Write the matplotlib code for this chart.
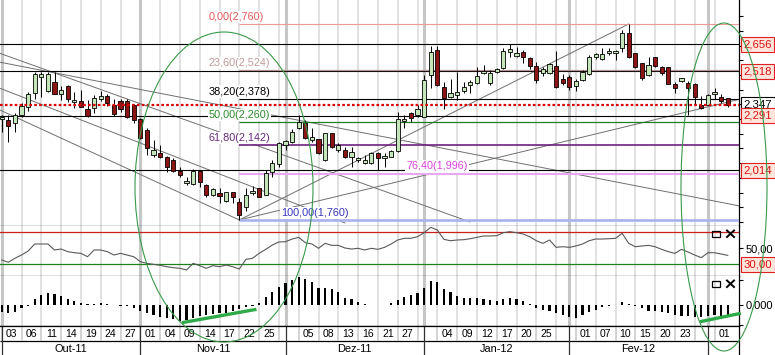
import matplotlib
matplotlib.use("Agg")
import matplotlib.pyplot as plt
import matplotlib.transforms as mtrans
from matplotlib.patches import Ellipse, Rectangle
import numpy as np

plt.rcParams['font.family'] = ['Liberation Sans', 'DejaVu Sans']

W, H = 775, 355

# daily candles, 03-Out-11 .. 02-Mar-12
opens = [2.274, 2.270, 2.253, 2.296, 2.335, 2.407, 2.488, 2.418, 2.466, 2.403,
         2.444, 2.360, 2.367, 2.325, 2.330, 2.379, 2.393, 2.347, 2.367, 2.367,
         2.347, 2.275, 2.219, 2.092, 2.102, 2.081, 2.066, 2.012, 1.947, 1.944,
         2.012, 1.939, 1.888, 1.896, 1.858, 1.901, 1.853, 1.826, 1.896, 1.922,
         1.888, 2.007, 2.046, 2.142, 2.156, 2.228, 2.256, 2.168, 2.172, 2.066,
         2.202, 2.117, 2.117, 2.080, 2.066, 2.052, 2.052, 2.103, 2.075, 2.083,
         2.112, 2.265, 2.307, 2.296, 2.287, 2.500, 2.627, 2.440, 2.386, 2.398,
         2.420, 2.449, 2.457, 2.508, 2.457, 2.517, 2.534, 2.619, 2.598, 2.619,
         2.585, 2.546, 2.508, 2.508, 2.546, 2.478, 2.488, 2.445, 2.474, 2.505,
         2.590, 2.580, 2.610, 2.610, 2.636, 2.713, 2.610, 2.559, 2.500, 2.590,
         2.542, 2.539, 2.454, 2.471, 2.461, 2.454, 2.347, 2.347, 2.403, 2.389,
         2.381]
highs = [2.296, 2.296, 2.304, 2.355, 2.415, 2.514, 2.517, 2.517, 2.517, 2.444,
         2.449, 2.415, 2.423, 2.372, 2.398, 2.418, 2.403, 2.377, 2.377, 2.377,
         2.352, 2.280, 2.229, 2.168, 2.142, 2.086, 2.075, 2.032, 1.981, 2.019,
         2.015, 1.944, 1.922, 1.922, 1.904, 1.904, 1.871, 1.922, 1.933, 1.925,
         2.015, 2.066, 2.160, 2.168, 2.223, 2.296, 2.270, 2.228, 2.175, 2.205,
         2.205, 2.151, 2.134, 2.134, 2.083, 2.092, 2.107, 2.108, 2.100, 2.117,
         2.313, 2.296, 2.310, 2.347, 2.500, 2.648, 2.648, 2.466, 2.478, 2.517,
         2.466, 2.474, 2.542, 2.551, 2.525, 2.534, 2.636, 2.658, 2.641, 2.627,
         2.593, 2.568, 2.542, 2.563, 2.624, 2.505, 2.500, 2.478, 2.525, 2.602,
         2.610, 2.636, 2.636, 2.627, 2.729, 2.760, 2.612, 2.561, 2.590, 2.593,
         2.546, 2.542, 2.466, 2.486, 2.471, 2.461, 2.393, 2.403, 2.432, 2.403,
         2.383]
lows = [2.211, 2.159, 2.211, 2.287, 2.318, 2.376, 2.386, 2.415, 2.401, 2.372,
        2.363, 2.330, 2.335, 2.287, 2.307, 2.369, 2.342, 2.291, 2.313, 2.278,
        2.255, 2.173, 2.092, 2.081, 2.076, 2.005, 2.007, 1.981, 1.939, 1.939,
        1.930, 1.879, 1.883, 1.845, 1.852, 1.849, 1.760, 1.806, 1.888, 1.876,
        1.885, 1.981, 2.032, 2.117, 2.153, 2.226, 2.175, 2.160, 2.097, 2.063,
        2.126, 2.108, 2.075, 2.032, 2.057, 2.046, 2.046, 2.015, 2.032, 2.080,
        2.108, 2.228, 2.262, 2.287, 2.284, 2.432, 2.446, 2.325, 2.383, 2.372,
        2.409, 2.409, 2.454, 2.505, 2.449, 2.511, 2.532, 2.590, 2.590, 2.559,
        2.529, 2.461, 2.495, 2.505, 2.434, 2.449, 2.423, 2.420, 2.471, 2.500,
        2.580, 2.578, 2.602, 2.576, 2.619, 2.585, 2.534, 2.474, 2.495, 2.539,
        2.500, 2.452, 2.409, 2.466, 2.296, 2.347, 2.325, 2.347, 2.376, 2.358,
        2.335]
closes = [2.284, 2.240, 2.296, 2.342, 2.403, 2.505, 2.505, 2.505, 2.403, 2.423,
          2.376, 2.372, 2.338, 2.291, 2.384, 2.393, 2.355, 2.299, 2.325, 2.283,
          2.270, 2.178, 2.127, 2.117, 2.081, 2.030, 2.012, 1.990, 1.959, 2.012,
          1.955, 1.888, 1.917, 1.884, 1.901, 1.879, 1.785, 1.888, 1.908, 1.879,
          2.001, 2.052, 2.151, 2.163, 2.210, 2.262, 2.177, 2.185, 2.100, 2.202,
          2.134, 2.142, 2.080, 2.108, 2.078, 2.066, 2.100, 2.075, 2.087, 2.112,
          2.274, 2.274, 2.279, 2.325, 2.474, 2.619, 2.449, 2.381, 2.409, 2.415,
          2.440, 2.466, 2.495, 2.520, 2.508, 2.529, 2.622, 2.631, 2.611, 2.590,
          2.546, 2.474, 2.529, 2.556, 2.437, 2.461, 2.440, 2.469, 2.517, 2.590,
          2.605, 2.605, 2.624, 2.622, 2.716, 2.590, 2.542, 2.483, 2.551, 2.546,
          2.508, 2.454, 2.432, 2.483, 2.432, 2.389, 2.330, 2.398, 2.415, 2.369,
          2.347]

rsi = [35.4, 32.5, 37.5, 41.6, 46.6, 55.4, 55.4, 55.4, 47.9, 49.1,
       45.8, 44.5, 43.7, 39.5, 47.9, 47.9, 45.8, 41.6, 43.7, 41.6,
       39.5, 33.3, 31.2, 30.0, 28.7, 27.0, 25.8, 25.0, 22.9, 31.2,
       28.3, 25.0, 28.3, 27.0, 29.1, 27.0, 24.1, 36.2, 37.5, 43.7,
       48.7, 54.1, 57.9, 58.3, 61.6, 63.7, 57.0, 55.4, 50.0, 56.2,
       53.7, 53.7, 50.4, 49.1, 50.0, 47.9, 50.0, 48.7, 51.2, 55.4,
       60.4, 62.5, 62.5, 64.5, 69.5, 76.2, 72.9, 61.2, 59.5, 60.4,
       60.8, 62.0, 63.7, 65.4, 65.4, 65.8, 69.5, 70.8, 69.5, 67.9,
       64.5, 59.5, 56.2, 60.4, 51.2, 52.0, 51.2, 52.9, 55.4, 59.5,
       61.6, 61.6, 62.0, 62.5, 68.7, 56.2, 52.0, 52.9, 53.7, 52.0,
       48.7, 45.8, 43.7, 48.7, 45.4, 41.6, 38.3, 44.5, 44.5, 42.9,
       41.2]

macd_hist = [-0.0067, -0.0083, -0.0067, -0.0033, -0.0010, 0.0057, 0.0100, 0.0123, 0.0110, 0.0090,
             0.0057, 0.0040, 0.0017, 0.0007, 0.0010, 0.0017, 0.0010, 0.0000, -0.0010, -0.0010,
             -0.0027, -0.0057, -0.0083, -0.0100, -0.0117, -0.0127, -0.0143, -0.0157, -0.0150, -0.0127,
             -0.0110, -0.0100, -0.0093, -0.0083, -0.0077, -0.0060, -0.0043, -0.0023, -0.0010, 0.0023,
             0.0077, 0.0133, 0.0183, 0.0223, 0.0250, 0.0277, 0.0257, 0.0233, 0.0173, 0.0173,
             0.0157, 0.0133, 0.0073, 0.0057, 0.0033, 0.0010, 0.0000, 0.0000, 0.0003, 0.0023,
             0.0050, 0.0077, 0.0100, 0.0123, 0.0167, 0.0240, 0.0233, 0.0160, 0.0133, 0.0090,
             0.0073, 0.0067, 0.0067, 0.0057, 0.0050, 0.0043, 0.0063, 0.0067, 0.0057, 0.0040,
             0.0010, -0.0033, -0.0050, -0.0057, -0.0083, -0.0100, -0.0123, -0.0127, -0.0100, -0.0067,
             -0.0050, -0.0017, -0.0010, 0.0000, 0.0027, 0.0007, -0.0010, -0.0033, -0.0057, -0.0057,
             -0.0070, -0.0083, -0.0100, -0.0107, -0.0107, -0.0117, -0.0123, -0.0110, -0.0100, -0.0107,
             -0.0100]

# axis labels: one per 3-candle cell, blank where a month starts inside the cell
day_labels = ["03", "06", "11", "14", "19", "24", "27",
              "01", "04", "09", "14", "17", "22", "25", "",
              "05", "08", "13", "16", "21", "27", "",
              "04", "09", "12", "17", "20", "25", "",
              "01", "07", "10", "15", "20", "23", "",
              "01"]
month_names = ["Out-11", "Nov-11", "Dez-11", "Jan-12", "Fev-12"]
month_starts = [0, 21, 43, 64, 86, 107]

# drawing objects on the price chart
fib_low, fib_high = 1.760, 2.760
fib_start = 36
fib_levels = [0.0, 23.6, 38.2, 50.0, 61.8, 76.4, 100.0]
fib_label_x = [31.4, 31.4, 31.4, 31.4, 31.4, 61.3, 42.4]
sr_levels = [2.656, 2.518, 2.291, 2.014]
last_price = 2.347
trend_lines = [
    ((-0.26, 2.610), (70.95, 1.750)),
    ((-0.26, 2.565), (111.9, 1.831)),
    ((-0.26, 2.432), (52.0, 1.745)),
    ((-0.26, 2.321), (36.0, 1.760)),
    ((36.0, 1.760), (95.0, 2.760)),
    ((36.0, 1.760), (111.9, 2.377)),
]
rsi_levels = [70, 30]
divergences = [((27.3, -0.0177), (38.6, -0.0043)),
               ((105.8, -0.0167), (112.0, -0.0083))]


def br(v, nd):
    return "{:.{}f}".format(v, nd).replace(".", ",")


def px_rect(top, bottom, right=739):
    return [0, 1 - bottom / H, right / W, (bottom - top) / H]


def draw_grid(a):
    for g in range(0, 111, 3):
        a.axvline(g, color="#d8d8d8", lw=1.1, zorder=0)
    for m in month_starts:
        a.axvline(m, color="#c6c6c6", lw=2.2, zorder=0)


def style_panel(a):
    a.set_xlim(-0.26, 111.71)
    for s in ("left", "top"):
        a.spines[s].set_visible(False)
    a.spines["right"].set_linewidth(0.9)
    a.spines["bottom"].set_linewidth(0.9)
    a.yaxis.tick_right()
    a.set_xticks([])
    a.tick_params(axis="y", length=3, width=0.8, labelsize=8, pad=2)
    draw_grid(a)


def axis_box(a, val, text, fc, ec, tc, z):
    # value box sitting on the right-hand axis
    t = mtrans.blended_transform_factory(a.transAxes, a.transData)
    a.text(1.006, val, text, transform=t, fontsize=8.2, va="center", ha="left",
           color=tc, zorder=z,
           bbox=dict(boxstyle="square,pad=0.22", fc=fc, ec=ec, lw=0.8))


fig = plt.figure(figsize=(W / 100, H / 100), dpi=100)
ax = fig.add_axes(px_rect(0, 226))
ax_rsi = fig.add_axes(px_rect(226, 275.5))
ax_macd = fig.add_axes(px_rect(275.5, 326))
ax_date = fig.add_axes(px_rect(326, 355))

# ---- price panel ----
style_panel(ax)
ax.set_ylim(1.7293, 2.8824)
ax.set_yticks([round(1.75 + 0.075 * k, 3) for k in range(15)])
ax.set_yticklabels([])

x = np.arange(len(closes))
o = np.array(opens)
c = np.array(closes)
up = c >= o
ax.vlines(x, lows, highs, color="black", lw=0.7, zorder=4)
ax.bar(x, np.maximum(np.abs(c - o), 0.005), bottom=np.minimum(o, c), width=0.64,
       color=np.where(up, "#c4e6ba", "#8c1414"), edgecolor="black", linewidth=0.6, zorder=5)

for (x0, y0), (x1, y1) in trend_lines:
    ax.plot([x0, x1], [y0, y1], color="#707070", lw=0.7, zorder=2)

for lvl in sr_levels:
    ax.axhline(lvl, color="black", lw=0.8, zorder=2)
ax.axhline(last_price, color="#dd0000", lw=1.6, ls=(0, (1.2, 1.0)), zorder=6)

fib_line_col = ["#f09898", "#b89090", "black", "#208020", "#702080", "#e8a8f0", "#aab2ee"]
fib_text_col = ["#e05858", "#c09a9a", "black", "#2a8a2a", "#6a2a7a", "#e040e0", "#3535c0"]
fib_lw = [0.8, 0.9, 0.8, 0.9, 1.2, 1.5, 1.9]
for lvl, lc, tc, lw, lx in zip(fib_levels, fib_line_col, fib_text_col, fib_lw, fib_label_x):
    price = fib_high - (fib_high - fib_low) * lvl / 100
    ax.hlines(price, fib_start, 111.71, color=lc, lw=lw, zorder=3.5)
    ax.text(lx, price + 0.022, "{}({})".format(br(lvl, 2), br(price, 3)), color=tc,
            fontsize=7.8, ha="left", va="baseline", zorder=3,
            bbox=dict(fc="white", ec="none", pad=0.8))

axis_box(ax, last_price, br(last_price, 3), "white", "black", "black", 7)
for lvl in sr_levels:
    axis_box(ax, lvl, br(lvl, 3), "#ffe6dc", "#e02020", "#dd1010", 8)

# ---- RSI panel ----
style_panel(ax_rsi)
ax_rsi.set_ylim(16.0, 77.9)
ax_rsi.plot(x, rsi, color="#5a5a5a", lw=0.8, zorder=3)
ax_rsi.axhline(rsi_levels[0], color="#cc2020", lw=0.9, zorder=2)
ax_rsi.axhline(rsi_levels[1], color="#208020", lw=0.9, zorder=2)
ax_rsi.set_yticks([50])
ax_rsi.set_yticklabels(["50,00"])
axis_box(ax_rsi, rsi_levels[1], br(rsi_levels[1], 2), "#ffe6dc", "#e02020", "#dd1010", 8)

# ---- MACD histogram ----
style_panel(ax_macd)
ax_macd.set_ylim(-0.021, 0.0295)
ax_macd.bar(x, macd_hist, width=0.32, color="black", zorder=3)
ax_macd.set_yticks([0.025, 0.0, -0.02])
ax_macd.set_yticklabels(["", "0,000", ""])
for (x0, y0), (x1, y1) in divergences:
    ax_macd.plot([x0, x1], [y0, y1], color="#2eaa48", lw=2.4, solid_capstyle="butt",
                 clip_on=False, zorder=6)

# ---- date rows ----
ax_date.set_xlim(-0.26, 111.71)
ax_date.set_ylim(355, 326)
ax_date.set_xticks([])
ax_date.set_yticks([])
ax_date.spines["left"].set_visible(False)
ax_date.spines["bottom"].set_visible(False)
ax_date.spines["top"].set_linewidth(0.9)
ax_date.spines["right"].set_linewidth(0.9)
ax_date.hlines(341, -0.26, 111.71, color="black", lw=0.9)
ax_date.vlines(list(range(0, 111, 3)), 326, 341, color="#c8c8c8", lw=1.1)
ax_date.vlines(month_starts, 326, 355, color="#303030", lw=0.9)
for k, lab in enumerate(day_labels):
    ax_date.text(3 * k + 1.5, 333.8, lab, ha="center", va="center", fontsize=7.5)
for k, name in enumerate(month_names):
    ax_date.text((month_starts[k] + month_starts[k + 1]) / 2, 348.5, name,
                 ha="center", va="center", fontsize=7.9)

# ---- overlay: ellipses and panel buttons ----
ov = fig.add_axes([0, 0, 1, 1], zorder=10)
ov.set_xlim(0, W)
ov.set_ylim(H, 0)
ov.axis("off")
ov.patch.set_alpha(0)
ov.add_patch(Ellipse((224, 187), 178, 310, fill=False, ec="#3a9a4a", lw=0.8))
ov.add_patch(Ellipse((724, 187), 86, 328, fill=False, ec="#3a9a4a", lw=0.8))
for yb in (230.5, 280.5):
    ov.add_patch(Rectangle((712, yb), 8, 6, fill=False, ec="black", lw=0.9))
    ov.plot([727, 734], [yb, yb + 6.5], color="black", lw=1.4)
    ov.plot([727, 734], [yb + 6.5, yb], color="black", lw=1.4)

fig.savefig("out.png", dpi=100)
